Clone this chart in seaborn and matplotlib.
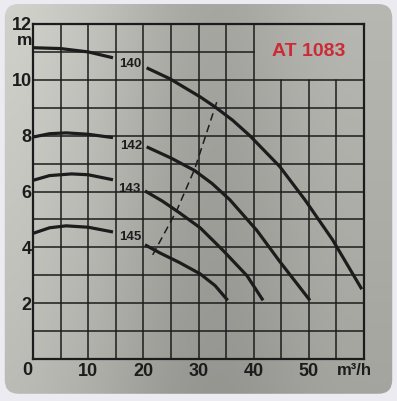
import numpy as np
import pandas as pd
import matplotlib
matplotlib.use("Agg")
import matplotlib.pyplot as plt
from matplotlib.patches import FancyBboxPatch
import seaborn as sns

# ---- data ----
curve_names = ["140", "142", "143", "145"]
flow_140_a = [0, 5, 10, 14.5]
head_140_a = [11.15, 11.12, 11.0, 10.79]
flow_140_b = [20.6, 24.8, 30.3, 33, 36.2, 39.3, 44.7, 49.3, 54.3, 59.6]
head_140_b = [10.43, 10.04, 9.39, 9.03, 8.55, 8.0, 6.9, 5.7, 4.27, 2.5]

flow_142_a = [0, 3, 6, 10, 14.5]
head_142_a = [7.95, 8.07, 8.1, 8.05, 7.93]
flow_142_b = [20.6, 25.0, 29.3, 32.5, 35.7, 40.6, 44.7, 50.2]
head_142_b = [7.6, 7.2, 6.75, 6.28, 5.7, 4.6, 3.5, 2.1]

flow_143_a = [0, 3, 7, 10, 14.5]
head_143_a = [6.4, 6.57, 6.63, 6.6, 6.42]
flow_143_b = [20.3, 23.5, 26.6, 30.3, 34.4, 38.8, 41.7]
head_143_b = [6.02, 5.65, 5.23, 4.7, 3.9, 2.98, 2.1]

flow_145_a = [0, 3, 6, 10, 14.5]
head_145_a = [4.5, 4.7, 4.77, 4.72, 4.55]
flow_145_b = [20.3, 23, 26.6, 30.3, 33.0, 35.3]
head_145_b = [4.09, 3.8, 3.45, 3.05, 2.63, 2.1]

flow_dash = [21.7, 26.1, 29.3, 33.3]
head_dash = [3.73, 5.34, 6.8, 9.2]

label_x = [17.6, 17.8, 17.4, 17.6]
label_y = [10.57, 7.63, 6.1, 4.37]

x_ticks = [10, 20, 30, 40, 50]
y_ticks = [2, 4, 6, 8, 10, 12]
title_text = "AT 1083"

# ---- figure ----
sns.set_style("white")
plt.rcParams["font.family"] = ["Liberation Sans", "DejaVu Sans"]
ink = "#1c1c1c"

fig = plt.figure(figsize=(3.97, 4.01), dpi=100, facecolor="#ecebf2")

# metallic plate background
bg = fig.add_axes([0, 0, 1, 1], zorder=0)
bg.set_axis_off()
grad_x = np.array([0.80, 0.77, 0.74, 0.69, 0.65, 0.63, 0.65, 0.68, 0.70, 0.70])
grad_y = np.linspace(1.03, 0.92, 60)[:, None]
img = (grad_y * grad_x[None, :])
rgb = np.dstack([img * 1.0, img * 1.0, img * 0.97])
plate = FancyBboxPatch((0.012, 0.018), 0.976, 0.972,
                       boxstyle="round,pad=0,rounding_size=0.035",
                       transform=bg.transAxes, facecolor="none", edgecolor="none")
bg.add_patch(plate)
im = bg.imshow(np.clip(rgb, 0, 1), extent=[0, 1, 0, 1], aspect="auto",
               interpolation="bicubic", transform=bg.transAxes)
im.set_clip_path(plate)
bg.set_xlim(0, 1)
bg.set_ylim(0, 1)

ax = fig.add_axes([33 / 397, 1 - 359 / 401, 331 / 397, 335 / 401], zorder=1)
ax.set_facecolor("none")
ax.set_xlim(0, 60)
ax.set_ylim(0, 12)

# grid, leaving the title box (x 40-60, y 10-12) empty
glw = 1.1
for gx in range(5, 60, 5):
    top = 10 if gx > 40 else 12
    ax.plot([gx, gx], [0, top], color=ink, lw=glw, zorder=1)
for gy in range(1, 12):
    right = 40 if gy > 10 else 60
    ax.plot([0, right], [gy, gy], color=ink, lw=glw, zorder=1)

for s in ax.spines.values():
    s.set_visible(True)
    s.set_color(ink)
    s.set_linewidth(1.6)

# pump curves
segments = [
    (flow_140_a, head_140_a), (flow_140_b, head_140_b),
    (flow_142_a, head_142_a), (flow_142_b, head_142_b),
    (flow_143_a, head_143_a), (flow_143_b, head_143_b),
    (flow_145_a, head_145_a), (flow_145_b, head_145_b),
]
for fx, hy in segments:
    sns.lineplot(x=fx, y=hy, ax=ax, color=ink, lw=2.3, sort=False,
                 estimator=None, zorder=3, solid_capstyle="butt",
                 solid_joinstyle="round")

sns.lineplot(x=flow_dash, y=head_dash, ax=ax, color=ink, lw=1.1, sort=False,
             estimator=None, zorder=3, linestyle=(0, (5, 3)))

for name, lx, ly in zip(curve_names, label_x, label_y):
    ax.text(lx, ly, name, ha="center", va="center", fontsize=9.5,
            fontweight="bold", color=ink, zorder=4)

ax.text(50, 11.02, title_text, ha="center", va="center", fontsize=14,
        fontweight="bold", color="#cc2a36", zorder=4)

# axes labels / ticks
ax.set_xticks(x_ticks)
ax.set_xticklabels([str(v) for v in x_ticks], fontsize=13, fontweight="bold", color=ink)
ax.set_yticks(y_ticks)
ax.set_yticklabels([str(v) for v in y_ticks], fontsize=13, fontweight="bold", color=ink)
ax.tick_params(axis="both", length=0)
ax.tick_params(axis="x", pad=3)
ax.tick_params(axis="y", pad=1)
ax.set_xlabel("")
ax.set_ylabel("")

ax.text(-1.1, -0.4, "0", ha="center", va="center", fontsize=13,
        fontweight="bold", color=ink, clip_on=False)
ax.text(-0.2, 11.4, "m", ha="right", va="center", fontsize=12.5,
        fontweight="bold", color=ink, clip_on=False)
ax.text(58.3, -0.4, "m³/h", ha="center", va="center", fontsize=12,
        fontweight="bold", color=ink, clip_on=False)

fig.savefig("out.png", dpi=100, facecolor=fig.get_facecolor())
